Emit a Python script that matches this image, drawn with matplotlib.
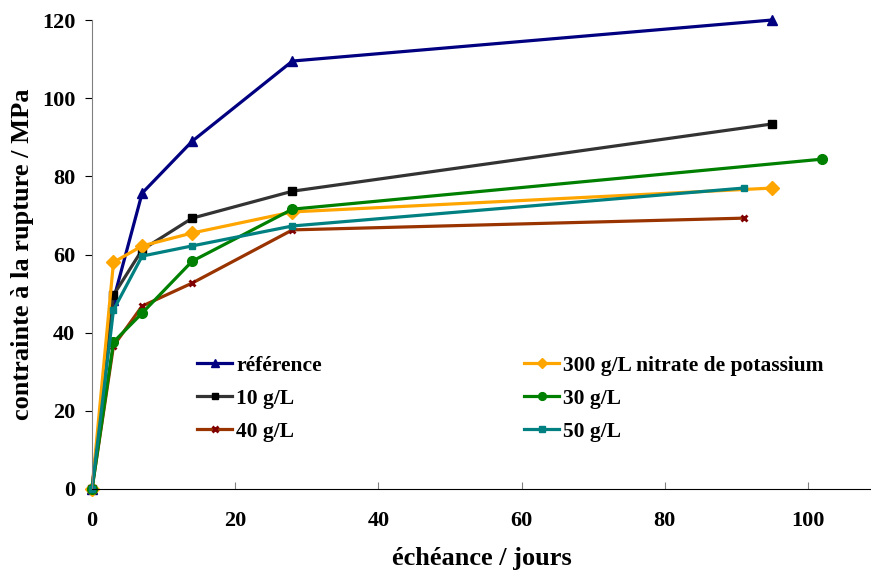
import matplotlib
matplotlib.use("Agg")
import matplotlib.pyplot as plt

# data
x_ref = [0, 3, 7, 14, 28, 95]
y_ref = [0, 48.4, 75.7, 89.0, 109.5, 120.0]
x_10 = [0, 3, 7, 14, 28, 95]
y_10 = [0, 49.6, 61.2, 69.3, 76.2, 93.4]
x_300 = [0, 3, 7, 14, 28, 95]
y_300 = [0, 58.0, 62.2, 65.5, 70.9, 77.0]
x_30 = [0, 3, 7, 14, 28, 102]
y_30 = [0, 37.6, 45.0, 58.3, 71.6, 84.4]
x_40 = [0, 3, 7, 14, 28, 91]
y_40 = [0, 36.6, 46.8, 52.7, 66.3, 69.3]
x_50 = [0, 3, 7, 14, 28, 91]
y_50 = [0, 45.8, 59.6, 62.2, 67.3, 77.0]

plt.rcParams['font.family'] = ['Liberation Serif', 'DejaVu Serif']
plt.rcParams['font.weight'] = 'bold'

fig = plt.figure(figsize=(8.71, 5.76), dpi=100)
ax = fig.add_axes([92/871, 1 - 489/576, 1 - 92/871, (489 - 20)/576])

lw = 2.3
kw = dict(lw=lw, clip_on=False)
l_ref, = ax.plot(x_ref, y_ref, color='#000080', marker='^', ms=7, label='référence', **kw)
l_10, = ax.plot(x_10, y_10, color='#333333', marker='s', ms=6,
                mfc='black', mec='black', label='10 g/L', **kw)
l_40, = ax.plot(x_40, y_40, color='#993300', marker='x', ms=5, mew=2,
                mec='#800000', label='40 g/L', **kw)
l_300, = ax.plot(x_300, y_300, color='#FFA500', marker='D', ms=7,
                 label='300 g/L nitrate de potassium', **kw)
l_30, = ax.plot(x_30, y_30, color='#008000', marker='o', ms=7, label='30 g/L', **kw)
l_50, = ax.plot(x_50, y_50, color='#008080', marker='s', ms=5, label='50 g/L', **kw)

ax.set_xlim(0, 108.8)
ax.set_ylim(0, 120)
ax.set_xticks([0, 20, 40, 60, 80, 100])
ax.set_yticks([0, 20, 40, 60, 80, 100, 120])
ax.spines['top'].set_visible(False)
ax.spines['right'].set_visible(False)
ax.spines['left'].set_color('#808080')
ax.spines['bottom'].set_color('black')
ax.tick_params(axis='x', direction='in', length=5, color='#808080', labelsize=16, pad=16)
ax.tick_params(axis='y', direction='out', length=5, color='black', labelsize=16, pad=7)
for lab in ax.get_xticklabels() + ax.get_yticklabels():
    lab.set_fontweight('bold')

ax.set_xlabel('échéance / jours', fontsize=19, fontweight='bold', labelpad=11.5)
ax.set_ylabel('contrainte à la rupture / MPa', fontsize=19, fontweight='bold', labelpad=5.5)

leg = ax.legend(handles=[l_ref, l_10, l_40, l_300, l_30, l_50], ncol=2, frameon=False,
                loc='upper left', bbox_to_anchor=(0.110, 0.325), fontsize=15.5,
                handlelength=1.63, handletextpad=0.19, columnspacing=9.4,
                labelspacing=0.59, markerscale=0.8)
for t in leg.get_texts():
    t.set_fontweight('bold')

fig.savefig('out.png', dpi=100)
